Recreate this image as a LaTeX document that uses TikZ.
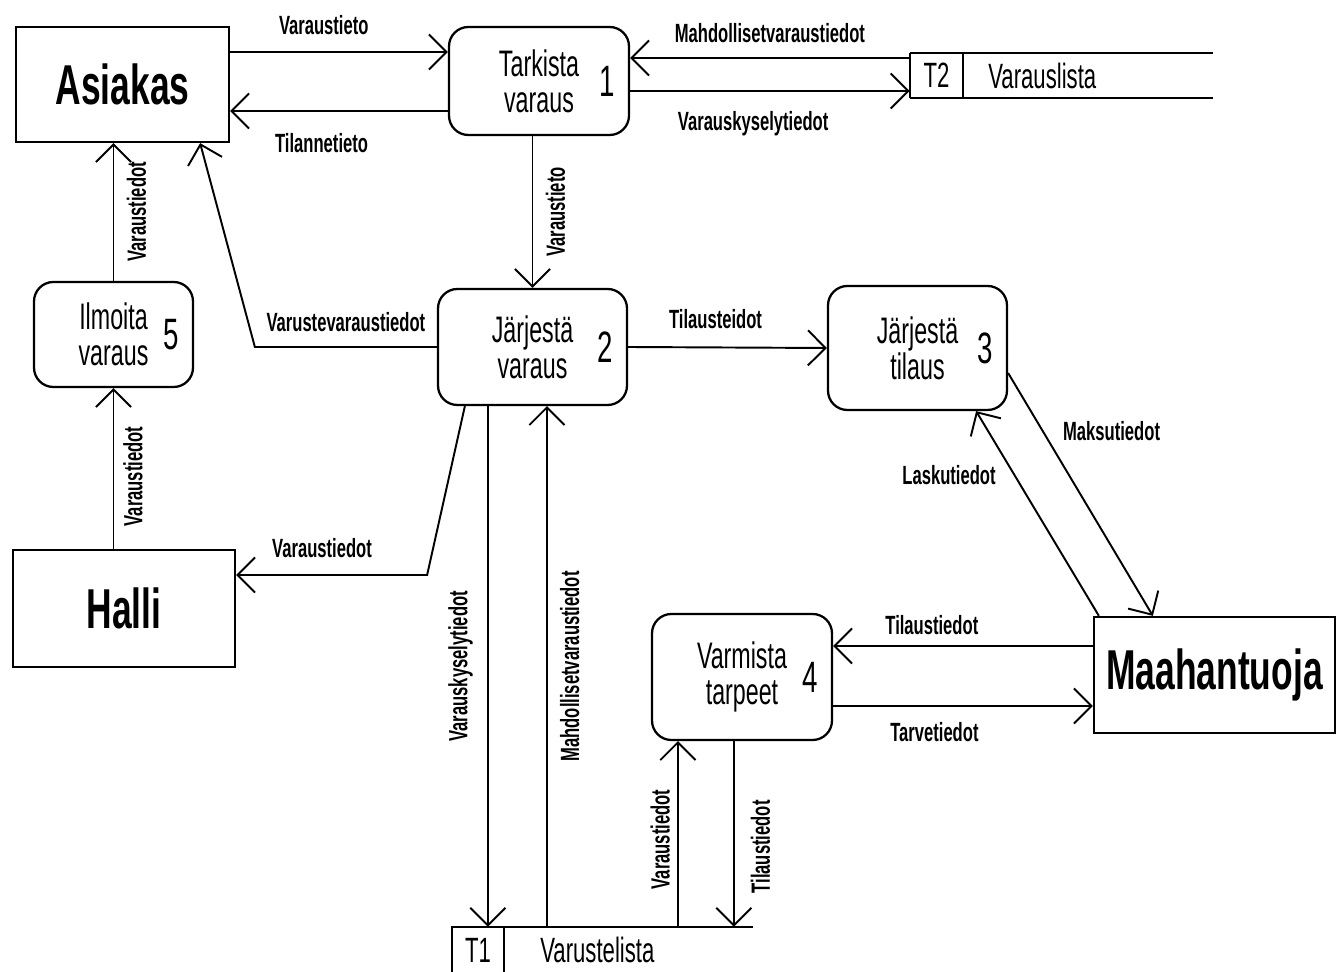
\documentclass[tikz,border=0pt]{standalone}
\usepackage{fontspec}
\setmainfont[FakeStretch=0.63]{Liberation Sans}
\usetikzlibrary{arrows.meta,calc}

\begin{document}
\begin{tikzpicture}[x=0.02cm, y=-0.02cm]
	\tikzstyle{entity}  = [draw, line width=1.3pt, font=\fontsize{32}{32}\selectfont\bfseries]
	\tikzstyle{process} = [draw, line width=1.3pt, rounded corners=11pt, align=center, font=\fontsize{21}{20.5}\selectfont]
	\tikzstyle{storeid} = [inner sep=0pt, font=\fontsize{20}{20}\selectfont]
	\tikzstyle{number}  = [font=\fontsize{25}{25}\selectfont]
	\tikzstyle{flow}    = [line width=1.1pt, -{Straight Barb[length=10pt,width=20pt]}]
	\tikzstyle{lbl}     = [inner sep=1pt, font=\fontsize{15}{15}\selectfont\bfseries]
	\tikzstyle{vlbl}    = [lbl, rotate=90]

	\useasboundingbox (0,0) rectangle (1340,972);
	\clip (0,0) rectangle (1340,972);

	% ulkoiset tahot
	\node[entity, minimum width=4.26cm, minimum height=2.3cm] (asiakas) at (122.5,84.5) {Asiakas};
	\node[entity, minimum width=4.44cm, minimum height=2.34cm] (halli) at (124,608.5) {Halli};
	\node[entity, minimum width=4.82cm, minimum height=2.32cm] (maa) at (1214.5,675) {Maahantuoja};

	% prosessit
	\foreach \name/\x/\y/\w/\h/\txt/\num in {p1/539/81/3.6/2.16/{Tarkista\\varaus}/1, p2/532.5/347/3.78/2.32/{Järjestä\\varaus}/2, p3/917.5/348/3.58/2.48/{Järjestä\\tilaus}/3, p4/742/677/3.6/2.52/{Varmista\\tarpeet}/4, p5/113.5/334.5/3.18/2.1/{Ilmoita\\varaus}/5}
	{
		\node[process, minimum width=\w cm, minimum height=\h cm] (\name) at (\x,\y) {\txt};
		\node[number] (n\name) at ($(\name.east)+(-23,0)$) {\num};
	}

	% tietovarastot
	\node[storeid, minimum width=1.06cm, minimum height=0.9cm] (t2) at (936.5,75.5) {T2};
	\node[storeid, anchor=west] (t2name) at (988,75.5) {Varauslista};
	\draw[line width=1.3pt] (t2.north west) -- ++(303,0) (t2.south west) -- ++(303,0)
		(t2.north west) -- (t2.south west) (t2.north east) -- (t2.south east);

	\node[storeid, minimum width=1.04cm, minimum height=0.92cm] (t1) at (478,950) {T1};
	\node[storeid, anchor=west] (t1name) at (540,950) {Varustelista};
	\draw[line width=1.3pt] (t1.south west) -- (t1.north west) -- ++(301,0)
		(t1.north east) -- (t1.south east);

	% tietovirrat
	\draw[flow] ($(asiakas.east)+(0,-32.5)$) -- node[lbl, pos=0.43, above=8pt] {Varaustieto} ($(p1.west)+(0,-29)$);
	\draw[flow] ($(p1.west)+(0,30)$) -- node[lbl, pos=0.58, below=11pt] {Tilannetieto} ($(asiakas.east)+(0,26.5)$);
	\draw[flow] ($(t2.west)+(0,-17.5)$) -- node[lbl, above=7pt] {Mahdollisetvaraustiedot} ($(p1.east)+(0,-23)$);
	\draw[flow] ($(p1.east)+(0,10)$) -- node[lbl, pos=0.44, below=10pt] {Varauskyselytiedot} ($(t2.west)+(0,15.5)$);
	\draw[flow] (p2.north |- p1.south) -- node[vlbl, below=6pt] {Varaustieto} (p2.north);
	\draw[flow] (p5.north) -- node[vlbl, below=6pt] {Varaustiedot} (p5.north |- asiakas.south);
	\draw[flow] (p5.south |- halli.north) -- node[vlbl, pos=0.45, below=4pt] {Varaustiedot} (p5.south);
	\draw[flow] (p2.west) -- node[lbl, above=7pt] {Varustevaraustiedot} ++(-182,0) -- ($(asiakas.south east)+(-30,0)$);
	\draw[flow] ($(p2.south west)+(28,0)$) -- ($(halli.east)+(191,-33.5)$) -- node[lbl, pos=0.55, above=8pt] {Varaustiedot} ($(halli.east)+(0,-33.5)$);
	\draw[flow] (p2.east) -- node[lbl, pos=0.44, above=9pt] {Tilausteidot} (p3.west);
	\draw[flow] ($(p3.east)+(0,25)$) -- node[lbl, pos=0.24, right=10pt] {Maksutiedot} ($(maa.north west)+(60,0)$);
	\draw[flow] ($(maa.north west)+(6,0)$) -- node[lbl, pos=0.69, left=9pt] {Laskutiedot} ($(p3.south east)+(-32,0)$);
	\draw[flow] ($(maa.west)+(0,-29)$) -- node[lbl, pos=0.62, above=5pt] {Tilaustiedot} ($(p4.east)+(0,-31)$);
	\draw[flow] ($(p4.east)+(0,29)$) -- node[lbl, pos=0.39, below=8pt] {Tarvetiedot} ($(maa.west)+(0,31)$);

	\coordinate (q15) at ($(p2.south west)+(51,0)$);
	\coordinate (q16) at ($(p2.south west)+(110,0)$);
	\coordinate (q17) at ($(p4.south west)+(27,0)$);
	\coordinate (q18) at ($(p4.south west)+(83,0)$);
	\draw[flow] (q15) -- node[vlbl, above=7pt] {Varauskyselytiedot} (q15 |- t1.north);
	\draw[flow] (q16 |- t1.north) -- node[vlbl, below=6pt] {Mahdollisetvaraustiedot} (q16);
	\draw[flow] (q17 |- t1.north) -- node[vlbl, pos=0.47, above=3pt] {Varaustiedot} (q17);
	\draw[flow] (q18) -- node[vlbl, pos=0.57, below=8pt] {Tilaustiedot} (q18 |- t1.north);
\end{tikzpicture}
\end{document}
